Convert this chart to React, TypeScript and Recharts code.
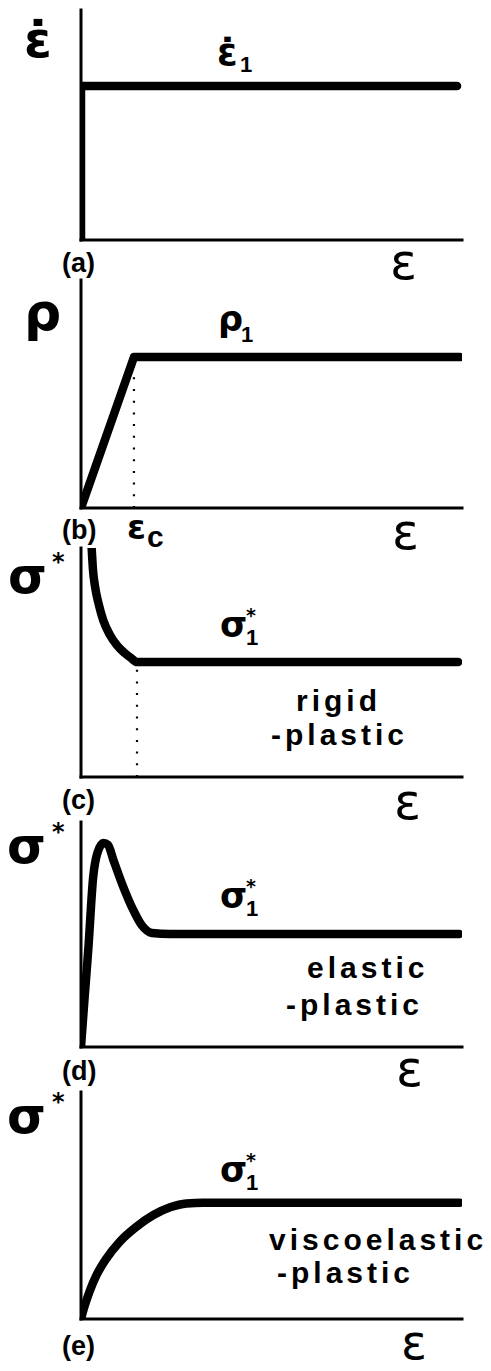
import React from "react";
import { LineChart, Line, XAxis, YAxis, ReferenceLine } from "recharts";

// Strain axis runs 0..100 (arbitrary units), response axis 0..100.
// (a) constant strain rate
const strainRateA = [
  { x: 0, y: 0 },
  { x: 0, y: 67.0 },
  { x: 98.7, y: 67.0 },
];

// (b) density rises linearly to rho_1 at eps_c, then stays constant
const epsC = 13.9;
const rho1 = 66.2;
const densityB = [
  { x: 0, y: 0 },
  { x: epsC, y: rho1 },
  { x: 99.5, y: rho1 },
];

// (c) rigid-plastic stress response
const epsC2 = 14.7;
const sigma1C = 50.2;
const stressC = [
  { x: 2.8, y: 100 },
  { x: 3.15, y: 90.4 },
  { x: 3.7, y: 83.0 },
  { x: 4.7, y: 75.1 },
  { x: 5.8, y: 68.6 },
  { x: 7.6, y: 62.0 },
  { x: 9.4, y: 57.6 },
  { x: 11.5, y: 54.1 },
  { x: 13.1, y: 52.0 },
  { x: epsC2, y: sigma1C },
  { x: 99, y: sigma1C },
];

// (d) elastic-plastic stress response with overshoot
const stressD = [
  { x: 0, y: 0 },
  { x: 0.9, y: 20.9 },
  { x: 1.9, y: 43.1 },
  { x: 3.2, y: 75.6 },
  { x: 4.3, y: 86.2 },
  { x: 5.9, y: 90.7 },
  { x: 7.1, y: 89.8 },
  { x: 8.5, y: 83.1 },
  { x: 11.1, y: 71.1 },
  { x: 13.7, y: 60.9 },
  { x: 15.9, y: 54.2 },
  { x: 18.6, y: 50.7 },
  { x: 23.4, y: 50.2 },
  { x: 99.3, y: 50.2 },
];

// (e) viscoelastic-plastic stress response
const stressE = [
  { x: 0, y: 0 },
  { x: 1.0, y: 6.0 },
  { x: 2.4, y: 12.8 },
  { x: 4.1, y: 19.4 },
  { x: 6.7, y: 26.7 },
  { x: 10.2, y: 34.1 },
  { x: 14.6, y: 40.7 },
  { x: 19.0, y: 45.8 },
  { x: 23.4, y: 49.2 },
  { x: 27.7, y: 50.9 },
  { x: 32.1, y: 51.2 },
  { x: 99.5, y: 51.2 },
];

const W = 491;
const PAD = 10;
const LEFT = 81;
const RIGHT = 29;

type Pt = { x: number; y: number };

function Panel({
  top,
  bottom,
  data,
  curve,
  dottedAt,
}: {
  top: number;
  bottom: number;
  data: Pt[];
  curve: "linear" | "monotone";
  dottedAt?: { x: number; y: number };
}) {
  const h = bottom - top + 2 * PAD;
  return (
    <div style={{ position: "absolute", left: 0, top: top - PAD }}>
      <LineChart
        width={W}
        height={h}
        data={data}
        margin={{ top: PAD, right: RIGHT, bottom: PAD, left: LEFT }}
        style={{ overflow: "visible" }}
      >
        <XAxis type="number" dataKey="x" domain={[0, 100]} allowDataOverflow hide />
        <YAxis type="number" domain={[0, 100]} allowDataOverflow hide />
        {/* plain axis frame: strain axis and response axis */}
        <ReferenceLine
          segment={[
            { x: 0, y: 0 },
            { x: 100, y: 0 },
          ]}
          stroke="#000"
          strokeWidth={3}
          strokeLinecap="square"
          ifOverflow="visible"
        />
        <ReferenceLine
          segment={[
            { x: 0, y: 0 },
            { x: 0, y: 100 },
          ]}
          stroke="#000"
          strokeWidth={3}
          strokeLinecap="square"
          ifOverflow="visible"
        />
        {dottedAt && (
          <ReferenceLine
            segment={[
              { x: dottedAt.x, y: 0 },
              { x: dottedAt.x, y: dottedAt.y },
            ]}
            stroke="#000"
            strokeWidth={2.2}
            strokeDasharray="2 9.7"
            ifOverflow="visible"
          />
        )}
        <Line
          type={curve}
          dataKey="y"
          stroke="#000"
          strokeWidth={8.5}
          strokeLinecap="round"
          strokeLinejoin="round"
          dot={false}
          activeDot={false}
          isAnimationActive={false}
        />
      </LineChart>
    </div>
  );
}

const greek = "'DejaVu Sans', sans-serif";
const latin = "'Liberation Sans', Arial, sans-serif";

function Labels() {
  const word = {
    fontFamily: latin,
    fontWeight: 700,
    fontSize: 30,
    letterSpacing: 4,
  } as const;
  const tag = { fontFamily: latin, fontWeight: 700, fontSize: 27 } as const;
  const axisEps = { fontFamily: greek, fontSize: 50 } as const;
  const bigSym = { fontFamily: greek, fontWeight: 700, fontSize: 50 } as const;
  const star = { fontFamily: greek, fontWeight: 700, fontSize: 24 } as const;
  const sym = { fontFamily: greek, fontWeight: 700, fontSize: 35 } as const;
  const sub = { fontFamily: latin, fontWeight: 700, fontSize: 22 } as const;
  const supStar = { fontFamily: greek, fontWeight: 700, fontSize: 19 } as const;

  return (
    <svg
      width={W}
      height={1371}
      style={{ position: "absolute", left: 0, top: 0, pointerEvents: "none" }}
    >
      {/* (a) */}
      <text x={24} y={57} {...bigSym}>ε̇</text>
      <text x={217} y={65} {...sym} fontSize={37}>
        ε̇
        <tspan x={240} y={72} {...sub}>1</tspan>
      </text>
      <text x={62} y={272} {...tag}>(a)</text>
      <text x={390} y={279} {...axisEps}>ε</text>

      {/* (b) */}
      <text x={24} y={330} {...bigSym} fontSize={52}>ρ</text>
      <text x={218} y={331} {...sym}>
        ρ
        <tspan x={241} y={342} {...sub}>1</tspan>
      </text>
      <text x={62} y={539} {...tag}>(b)</text>
      <text x={127} y={539} {...sym} fontSize={34}>
        ε
        <tspan x={147} y={547} {...tag} fontSize={30}>c</tspan>
      </text>
      <text x={392} y={549} {...axisEps}>ε</text>

      {/* (c) */}
      <text x={8} y={593} {...bigSym}>σ</text>
      <text x={52} y={570} {...star}>*</text>
      <text x={220} y={637} {...sym}>σ</text>
      <text x={246} y={645} {...sub}>1</text>
      <text x={246} y={622} {...supStar}>*</text>
      <text x={296} y={711} {...word}>rigid</text>
      <text x={271} y={745} {...word}>-plastic</text>
      <text x={62} y={809} {...tag}>(c)</text>
      <text x={394} y={819} {...axisEps}>ε</text>

      {/* (d) */}
      <text x={7} y={863} {...bigSym}>σ</text>
      <text x={52} y={840} {...star}>*</text>
      <text x={220} y={908} {...sym}>σ</text>
      <text x={246} y={916} {...sub}>1</text>
      <text x={246} y={893} {...supStar}>*</text>
      <text x={307} y={978} {...word}>elastic</text>
      <text x={286} y={1015} {...word}>-plastic</text>
      <text x={62} y={1080} {...tag}>(d)</text>
      <text x={396} y={1086} {...axisEps}>ε</text>

      {/* (e) */}
      <text x={7} y={1133} {...bigSym}>σ</text>
      <text x={52} y={1110} {...star}>*</text>
      <text x={220} y={1182} {...sym}>σ</text>
      <text x={246} y={1190} {...sub}>1</text>
      <text x={246} y={1167} {...supStar}>*</text>
      <text x={269} y={1250} {...word}>viscoelastic</text>
      <text x={277} y={1283} {...word}>-plastic</text>
      <text x={62} y={1355} {...tag}>(e)</text>
      <text x={401} y={1359} {...axisEps} fontSize={48}>ε</text>
    </svg>
  );
}

export default function App() {
  return (
    <div
      style={{
        position: "absolute",
        left: 0,
        top: 0,
        width: W,
        height: 1371,
        background: "#fff",
      }}
    >
      <Panel top={10} bottom={240} data={strainRateA} curve="linear" />
      <Panel
        top={280}
        bottom={508}
        data={densityB}
        curve="linear"
        dottedAt={{ x: epsC, y: rho1 }}
      />
      <Panel
        top={548}
        bottom={777}
        data={stressC}
        curve="monotone"
        dottedAt={{ x: epsC2, y: sigma1C }}
      />
      <Panel top={822} bottom={1047} data={stressD} curve="monotone" />
      <Panel top={1092} bottom={1319} data={stressE} curve="monotone" />
      <Labels />
    </div>
  );
}
